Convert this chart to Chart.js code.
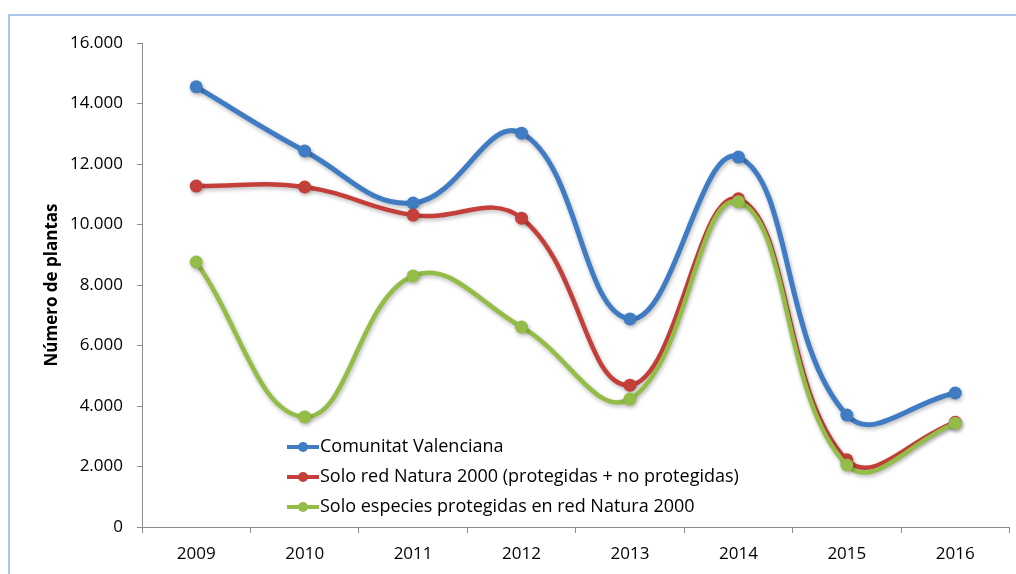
<!DOCTYPE html>
<html>
<head>
<meta charset="utf-8">
<title>Número de plantas</title>
<script src="https://cdn.jsdelivr.net/npm/chart.js"></script>
<style>
  html, body { margin: 0; padding: 0; background: #fff; overflow: hidden; }
  #frame { position: absolute; left: 8px; top: 14px; width: 1100px; height: 700px;
           border: 2px solid #a9c5eb; box-sizing: border-box; }
  #wrap { position: absolute; left: 0; top: 0; width: 1016px; height: 574px; }
</style>
</head>
<body>
<div id="frame"></div>
<div id="wrap"><canvas id="plantsChart" width="1016" height="574"></canvas></div>
<script>
// Data
const years = ['2009', '2010', '2011', '2012', '2013', '2014', '2015', '2016'];
const comunitat = [14550, 12430, 10710, 13020, 6880, 12230, 3700, 4430];
const soloRed = [11270, 11240, 10310, 10210, 4690, 10850, 2220, 3460];
const soloProtegidas = [8760, 3640, 8300, 6610, 4230, 10750, 2050, 3430];
const yTicks = [0, 2000, 4000, 6000, 8000, 10000, 12000, 14000, 16000];

const seriesLabels = [
   'Comunitat Valenciana',
   'Solo red Natura 2000 (protegidas + no protegidas)',
   'Solo especies protegidas en red Natura 2000'
];
const seriesColors = ['#3f7cc4', '#c43e3a', '#94bd48'];

const axisColor = '#8c8c8c';
const fontFamily = '"Open Sans", sans-serif';

// thousands with a dot, like 16.000
function fmt(v) {
   return String(v).replace(/\B(?=(\d{3})+(?!\d))/g, '.');
}

// soft shadow under every line, as in the original
const shadowPlugin = {
   id: 'shadow',
   beforeDatasetDraw(chart) {
      const c = chart.ctx;
      c.save();
      c.shadowColor = 'rgba(0,0,0,0.28)';
      c.shadowBlur = 4;
      c.shadowOffsetX = 1;
      c.shadowOffsetY = 2;
   },
   afterDatasetDraw(chart) {
      chart.ctx.restore();
   }
};

// legend sits inside the plot, bottom left
const insideLegend = {
   id: 'insideLegend',
   afterDraw(chart) {
      const c = chart.ctx;
      const area = chart.chartArea;
      const x0 = area.left + 145;
      c.save();
      c.font = '18px ' + fontFamily;
      c.textBaseline = 'middle';
      chart.data.datasets.forEach((ds, i) => {
         const y = area.bottom - 80 + i * 30;
         c.strokeStyle = ds.borderColor;
         c.lineWidth = 4;
         c.beginPath();
         c.moveTo(x0, y);
         c.lineTo(x0 + 32, y);
         c.stroke();
         c.fillStyle = ds.borderColor;
         c.beginPath();
         c.arc(x0 + 16, y, 5, 0, Math.PI * 2);
         c.fill();
         c.fillStyle = '#000';
         c.fillText(ds.label, x0 + 33, y);
      });
      c.restore();
   }
};

const seriesData = [comunitat, soloRed, soloProtegidas];

const ctx = document.getElementById('plantsChart').getContext('2d');
const plantsChart = new Chart(ctx, {
   type: 'line',
   data: {
      labels: years,
      datasets: seriesData.map((d, i) => ({
         label: seriesLabels[i],
         data: d,
         borderColor: seriesColors[i],
         backgroundColor: seriesColors[i],
         pointBackgroundColor: seriesColors[i],
         pointBorderColor: seriesColors[i],
         borderWidth: i === 0 ? 5 : 4.5,
         pointRadius: 6.5,
         pointBorderWidth: 0,
         tension: 0.42,
         fill: false,
         order: 3 - i
      }))
   },
   options: {
      responsive: false,
      animation: false,
      events: [],
      layout: { padding: { top: 43, right: 6, left: 0, bottom: 0 } },
      scales: {
         x: {
            offset: true,
            grid: {
               offset: true,
               drawOnChartArea: false,
               color: axisColor,
               tickLength: 6
            },
            border: { color: axisColor, width: 1 },
            ticks: {
               color: '#000',
               font: { family: fontFamily, size: 17 },
               padding: 11,
               maxRotation: 0
            },
            afterFit: scale => { scale.height = 47; }
         },
         y: {
            min: 0,
            max: 16000,
            afterBuildTicks: scale => { scale.ticks = yTicks.map(v => ({ value: v })); },
            grid: {
               drawOnChartArea: false,
               color: axisColor,
               tickLength: 5
            },
            border: { color: axisColor, width: 1 },
            ticks: {
               color: '#000',
               font: { family: fontFamily, size: 17 },
               padding: 14,
               callback: v => fmt(v)
            },
            title: {
               display: true,
               text: 'Número de plantas',
               color: '#000',
               font: { family: fontFamily, size: 17, weight: 'bold' },
               padding: { top: 42, bottom: 0 }
            },
            afterFit: scale => { scale.width = 142; }
         }
      },
      plugins: {
         legend: { display: false },
         tooltip: { enabled: false }
      }
   },
   plugins: [shadowPlugin, insideLegend]
});
</script>
</body>
</html>
